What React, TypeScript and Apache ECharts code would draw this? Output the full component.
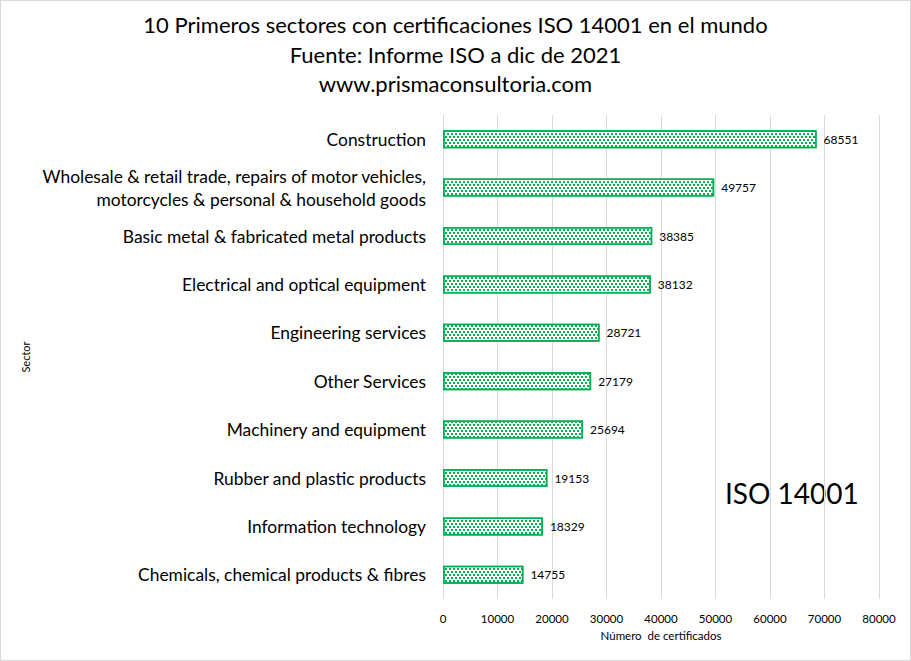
import { useEffect, useRef } from 'react'
import * as echarts from 'echarts'

const sectors = [
  'Construction',
  'Wholesale & retail trade, repairs of motor vehicles,\nmotorcycles & personal & household goods',
  'Basic metal & fabricated metal products',
  'Electrical and optical equipment',
  'Engineering services',
  'Other Services',
  'Machinery and equipment',
  'Rubber and plastic products',
  'Information technology',
  'Chemicals, chemical products & fibres',
]

const certificados = [68551, 49757, 38385, 38132, 28721, 27179, 25694, 19153, 18329, 14755]

const titleLines = [
  '10 Primeros sectores con certificaciones ISO 14001 en el mundo',
  'Fuente: Informe ISO a dic de 2021',
  'www.prismaconsultoria.com',
]

const FONT = 'Lato, "Open Sans", sans-serif'

function App() {
  const chartRef = useRef<HTMLDivElement>(null)

  useEffect(() => {
    if (!chartRef.current) return
    document.body.style.margin = '0'
    const chart = echarts.init(chartRef.current, null, { renderer: 'svg' })

    chart.setOption({
      animation: false,
      aria: { enabled: true, label: { enabled: false }, decal: { show: true } },
      textStyle: { fontFamily: FONT },
      title: {
        text: titleLines.join('\n'),
        left: 'center',
        top: 4,
        textStyle: { fontSize: 22, fontWeight: 'normal', color: '#000', lineHeight: 29.5, fontFamily: FONT },
      },
      grid: { left: 442, right: 31, top: 114, bottom: 61 },
      xAxis: {
        type: 'value',
        min: 0,
        max: 80000,
        interval: 10000,
        name: 'Número  de certificados',
        nameLocation: 'middle',
        nameGap: 30,
        nameTextStyle: { fontSize: 11.5, color: '#000' },
        axisLine: { show: false },
        axisTick: { show: false },
        axisLabel: { color: '#000', fontSize: 11.5, margin: 13, formatter: (v: number) => String(v) },
        splitLine: { lineStyle: { color: '#D9D9D9', width: 1 } },
      },
      yAxis: {
        type: 'category',
        inverse: true,
        data: sectors,
        name: 'Sector',
        nameLocation: 'middle',
        nameGap: 412,
        nameRotate: 90,
        nameTextStyle: { fontSize: 11, color: '#000' },
        axisLine: { show: false },
        axisTick: { show: false },
        axisLabel: { color: '#000', fontSize: 17.4, margin: 17, lineHeight: 23, align: 'right' },
        splitLine: { show: false },
      },
      series: [
        {
          type: 'bar',
          data: certificados,
          barWidth: 18,
          itemStyle: {
            color: '#FFFFFF',
            borderColor: '#00B050',
            borderWidth: 1.5,
            decal: {
              symbol: 'rect',
              symbolSize: 1,
              color: '#00B050',
              backgroundColor: '#FFFFFF',
              dashArrayX: [[2, 2], [0, 2, 2, 0]],
              dashArrayY: [2, 1],
              rotation: 0,
            },
          },
          label: {
            show: true,
            position: 'right',
            distance: 7,
            fontSize: 12,
            color: '#000',
          },
        },
      ],
      graphic: [
        {
          type: 'text',
          left: 724,
          top: 478,
          style: { text: 'ISO 14001', fontSize: 28, fill: '#000', fontFamily: FONT },
        },
      ],
    })

    return () => {
      chart.dispose()
    }
  }, [])

  return (
    <div
      style={{
        position: 'absolute',
        left: 0,
        top: 0,
        width: 911,
        height: 661,
        boxSizing: 'border-box',
        border: '1px solid #D9D9D9',
        background: '#fff',
      }}
    >
      <div ref={chartRef} style={{ width: 909, height: 659 }} />
    </div>
  )
}

export default App
